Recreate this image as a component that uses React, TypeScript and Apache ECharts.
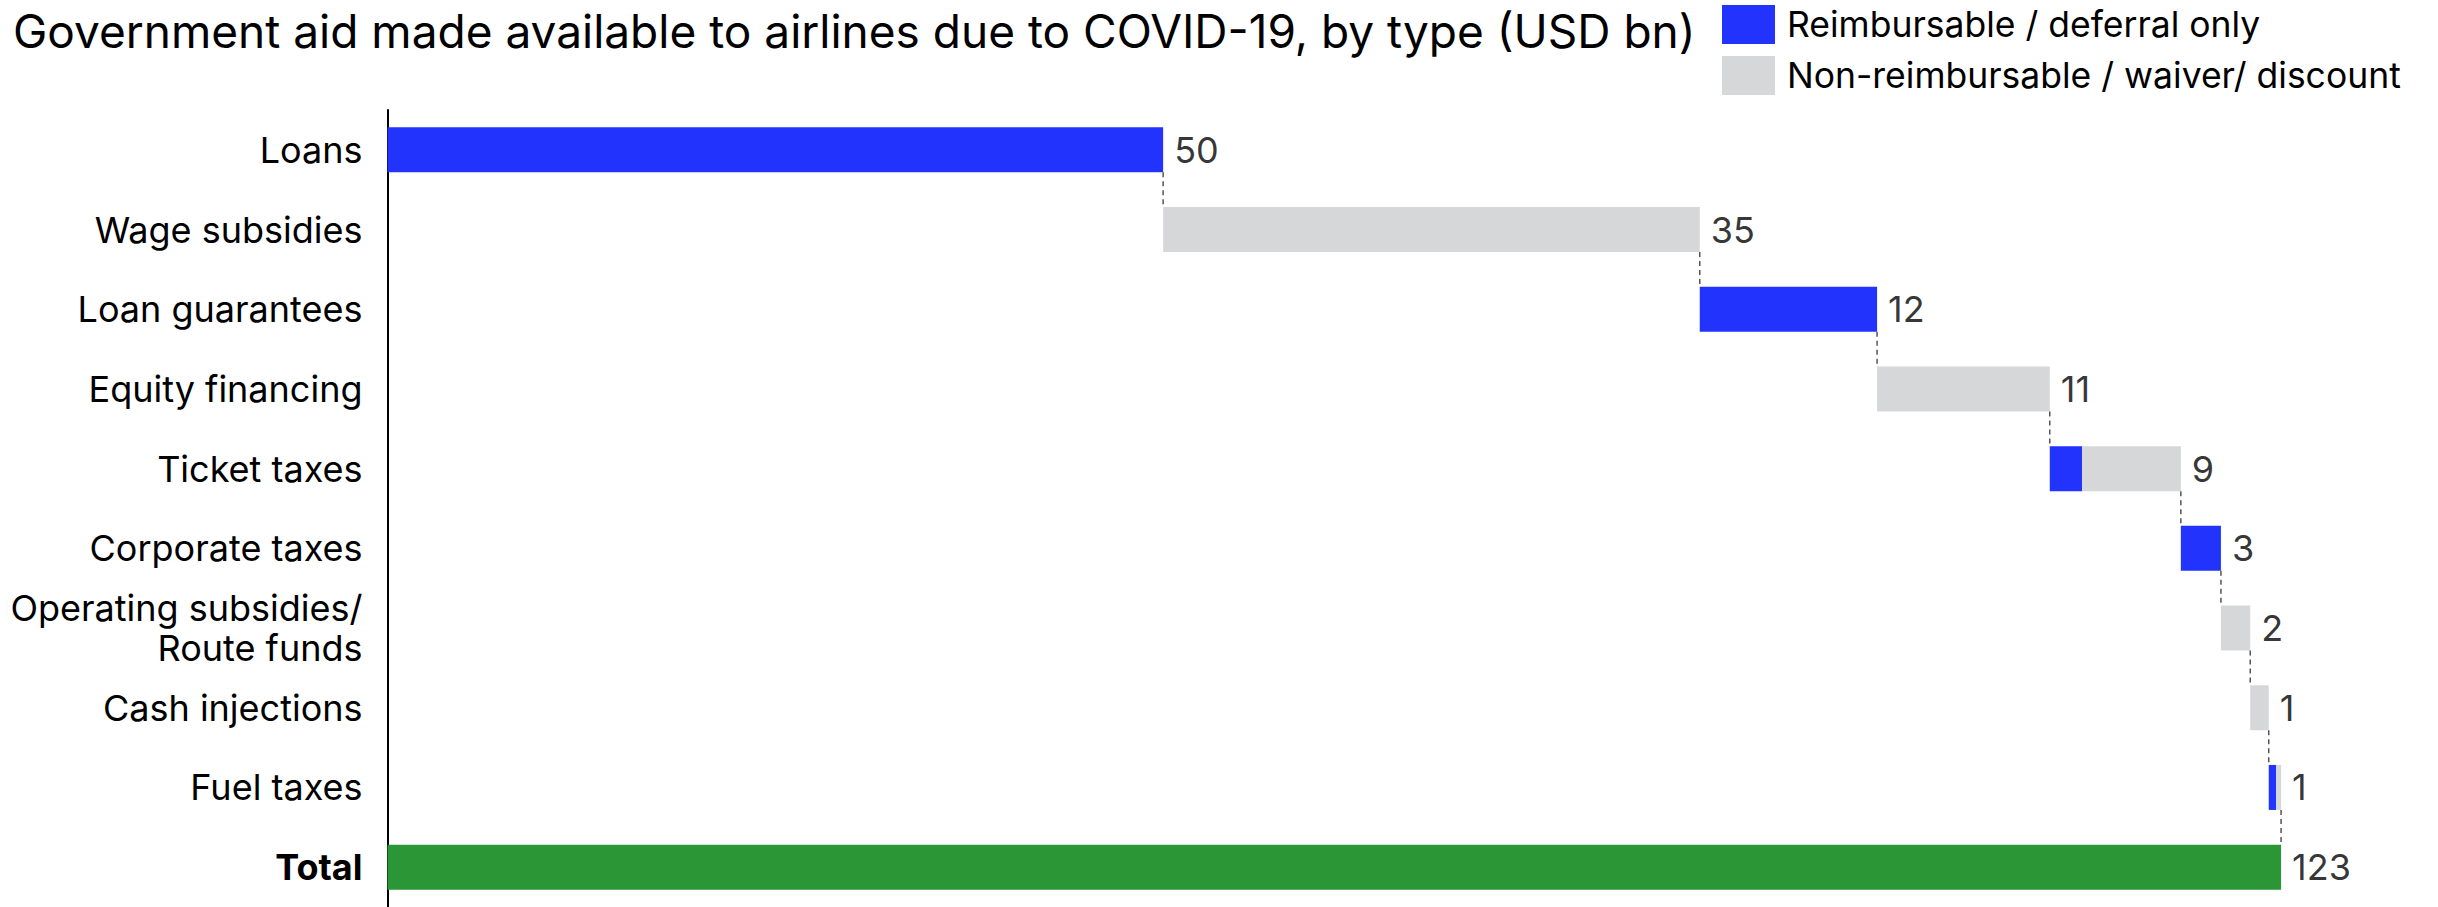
import React, { useEffect, useRef } from "react";
import * as echarts from "echarts";

const categories = [
  "Loans",
  "Wage subsidies",
  "Loan guarantees",
  "Equity financing",
  "Ticket taxes",
  "Corporate taxes",
  "Operating subsidies/\nRoute funds",
  "Cash injections",
  "Fuel taxes",
  "Total",
];
// Reimbursable / deferral only (blue)
const reimbursable = [50.3, 0, 11.5, 0, 2.1, 2.6, 0, 0, 0.47];
// Non-reimbursable / waiver / discount (grey)
const nonReimbursable = [0, 34.8, 0, 11.2, 6.4, 0, 1.9, 1.2, 0.33];

const BLUE = "#2233fd";
const GREY = "#d6d7d9";
const GREEN = "#2a9635";
const FONT = "Inter";
const FS = 36;

export default function App() {
  const ref = useRef<HTMLDivElement>(null);
  useEffect(() => {
    if (!ref.current) return;
    const chart = echarts.init(ref.current, undefined, { renderer: "svg" });

    const n = reimbursable.length;
    const base: number[] = [];
    const ends: number[] = [];
    const amounts: number[] = [];
    let cum = 0;
    for (let i = 0; i < n; i++) {
      base.push(cum);
      const a = reimbursable[i] + nonReimbursable[i];
      amounts.push(a);
      cum += a;
      ends.push(cum);
    }
    const total = cum;
    const baseData = [...base, 0];
    const blueData = [...reimbursable.map((v) => (v > 0 ? v : "-")), "-"];
    const greyData = [...nonReimbursable.map((v) => (v > 0 ? v : "-")), "-"];
    const totalData = [...new Array(n).fill("-"), total];
    const labelData = [...ends, total].map((v, i) => [v, i, i < n ? amounts[i] : total]);
    const connectorData = ends.map((v, i) => [v, i]);
    const BAR = 45;

    chart.setOption({
      animation: false,
      textStyle: { fontFamily: FONT },
      title: {
        text: "Government aid made available to airlines due to COVID-19, by type (USD bn)",
        left: 8,
        top: 3,
        textStyle: { fontFamily: FONT, fontSize: 46, fontWeight: "normal", color: "#000" },
      },
      legend: {
        orient: "vertical",
        left: 1722,
        top: 5,
        padding: 0,
        itemWidth: 53,
        itemHeight: 39,
        itemGap: 12,
        icon: "rect",
        data: ["Reimbursable / deferral only", "Non-reimbursable / waiver/ discount"],
        textStyle: {
          fontFamily: FONT,
          fontSize: 35.5,
          color: "#000",
          lineHeight: 39,
          padding: [0, 0, 0, 7],
        },
      },
      grid: { left: 387.5, top: 110, width: 130 * 15.42, height: 802 },
      xAxis: { type: "value", min: 0, max: 130, show: false },
      yAxis: {
        type: "category",
        data: categories,
        inverse: true,
        axisLine: { show: true, lineStyle: { color: "#000", width: 2 } },
        axisTick: { show: false },
        axisLabel: {
          margin: 25,
          fontFamily: FONT,
          fontSize: FS,
          color: "#000",
          lineHeight: 40,
          formatter: (v: string) => (v === "Total" ? "{b|Total}" : v),
          rich: { b: { fontWeight: "bold", fontSize: FS, fontFamily: FONT, color: "#000" } },
        },
      },
      series: [
        {
          type: "bar",
          name: "base",
          stack: "w",
          barWidth: BAR,
          itemStyle: { color: "transparent" },
          data: baseData,
          silent: true,
        },
        {
          type: "bar",
          name: "Reimbursable / deferral only",
          stack: "w",
          barWidth: BAR,
          itemStyle: { color: BLUE },
          data: blueData,
        },
        {
          type: "bar",
          name: "Non-reimbursable / waiver/ discount",
          stack: "w",
          barWidth: BAR,
          itemStyle: { color: GREY },
          data: greyData,
        },
        {
          type: "bar",
          name: "Total",
          stack: "w",
          barWidth: BAR,
          itemStyle: { color: GREEN },
          data: totalData,
        },
        {
          type: "custom",
          name: "connectors",
          data: connectorData,
          renderItem: (params: any, api: any) => {
            const p = api.coord([api.value(0), api.value(1)]);
            const band = api.size([0, 1])[1];
            return {
              type: "line",
              shape: { x1: p[0], y1: p[1] + BAR / 2, x2: p[0], y2: p[1] + band - BAR / 2 },
              style: { stroke: "#555", lineWidth: 1.5, lineDash: [5, 4] },
            };
          },
          z: 5,
        },
        {
          type: "scatter",
          name: "labels",
          symbolSize: 0,
          data: labelData,
          label: {
            show: true,
            position: "right",
            distance: 11,
            fontFamily: FONT,
            fontSize: FS,
            color: "#000",
            formatter: (p: any) => String(Math.round(p.value[2])),
          },
          z: 6,
        },
      ],
    });
    return () => chart.dispose();
  }, []);
  return (
    <div
      ref={ref}
      style={{ position: "fixed", left: 0, top: 0, width: 2438, height: 907, background: "#fff" }}
    />
  );
}
